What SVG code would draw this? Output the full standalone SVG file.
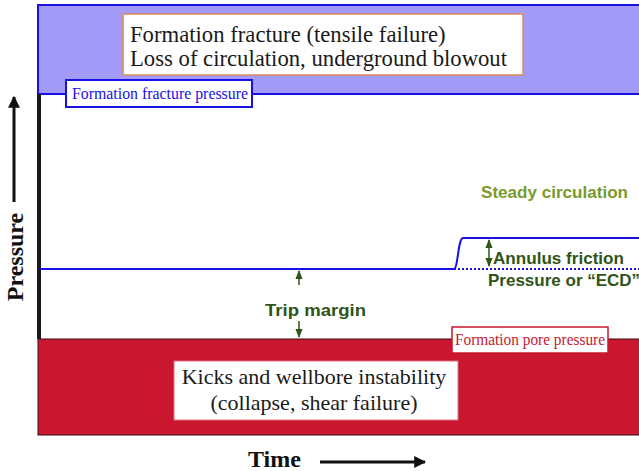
<svg xmlns="http://www.w3.org/2000/svg" width="639" height="471" viewBox="0 0 639 471">
  <style>
    .serif { font-family: "Liberation Serif", "Times New Roman", serif; }
    .sans { font-family: "Liberation Sans", Arial, sans-serif; font-weight: bold; }
    .big { font-size: 22.7px; fill: #1a1a1a; }
    .mid { font-size: 22px; fill: #1a1a1a; }
    .label { font-size: 15.8px; }
    .green { fill: #2f5416; font-size: 17px; }
  </style>
  <defs>
    <marker id="tipBlack" viewBox="0 0 10 10" refX="9" refY="5" markerWidth="4" markerHeight="4" orient="auto">
      <path d="M0,0 L10,5 L0,10 z" fill="#111"/>
    </marker>
    <marker id="tipGreen" viewBox="0 0 10 10" refX="9" refY="5" markerWidth="6" markerHeight="6" orient="auto-start-reverse">
      <path d="M0,1 L10,5 L0,9 z" fill="#2f5416"/>
    </marker>
  </defs>
  <rect width="639" height="471" fill="#ffffff"/>

  <!-- fracture zone (upper band) -->
  <g id="fracture-zone">
    <rect x="38" y="5" width="604" height="89" fill="#a29cf8" stroke="#1a10e6" stroke-width="2"/>
    <rect x="123" y="14" width="400" height="61" fill="#ffffff" stroke="#d98a5a" stroke-width="1.5"/>
    <text class="serif big" x="130" y="42">Formation fracture (tensile failure)</text>
    <text class="serif big" x="130" y="66">Loss of circulation, underground blowout</text>
  </g>

  <g id="fracture-label">
    <rect x="66" y="80" width="186" height="27" fill="#ffffff" stroke="#1a10e6" stroke-width="2"/>
    <text class="serif label" x="72" y="99" fill="#1a10e6" textLength="176" lengthAdjust="spacingAndGlyphs">Formation fracture pressure</text>
  </g>

  <!-- pore pressure zone (lower band) -->
  <g id="pore-zone">
    <rect x="38" y="339" width="604" height="96" fill="#c8172f" stroke="#3a0a10" stroke-width="1"/>
    <rect x="174" y="361" width="284" height="59" fill="#ffffff" stroke="#e07080" stroke-width="1"/>
    <text class="serif mid" x="314" y="384" text-anchor="middle">Kicks and wellbore instability</text>
    <text class="serif mid" x="314" y="410" text-anchor="middle">(collapse, shear failure)</text>
  </g>

  <g id="pore-label">
    <rect x="452" y="327" width="156" height="26" fill="#ffffff" stroke="#c8172f" stroke-width="1.5"/>
    <text class="serif label" x="455" y="345" fill="#c8172f" textLength="150" lengthAdjust="spacingAndGlyphs">Formation pore pressure</text>
  </g>

  <!-- pressure axis -->
  <g id="axis">
    <line x1="39" y1="94" x2="39" y2="339" stroke="#1a1a1a" stroke-width="4"/>
  </g>

  <!-- wellbore pressure curve -->
  <g id="wellbore-pressure">
    <path d="M40,269 L454,269 C458,269 458,238 463,238 L639,238" fill="none" stroke="#1a10e6" stroke-width="2"/>
    <line x1="454" y1="269" x2="639" y2="269" stroke="#1a10e6" stroke-width="2" stroke-dasharray="2,2"/>
  </g>

  <g id="steady-label">
    <text class="sans" x="481" y="198" font-size="17" fill="#7a9a2a" textLength="147" lengthAdjust="spacingAndGlyphs">Steady circulation</text>
  </g>

  <g id="ecd-label">
    <text class="sans green" x="493" y="264" textLength="131" lengthAdjust="spacingAndGlyphs">Annulus friction</text>
    <text class="sans green" x="488" y="286">Pressure or “ECD”</text>
  </g>

  <g id="trip-label">
    <text class="sans green" x="265" y="316" textLength="101" lengthAdjust="spacingAndGlyphs">Trip margin</text>
  </g>

  <g id="connectors">
    <line x1="489" y1="266" x2="489" y2="240" stroke="#2f5416" stroke-width="1.5" marker-start="url(#tipGreen)" marker-end="url(#tipGreen)"/>
    <line x1="299" y1="285" x2="299" y2="271" stroke="#2f5416" stroke-width="1.5" marker-end="url(#tipGreen)"/>
    <line x1="299" y1="321" x2="299" y2="337" stroke="#2f5416" stroke-width="1.5" marker-end="url(#tipGreen)"/>
    <line x1="14" y1="202" x2="14" y2="97" stroke="#111" stroke-width="3" marker-end="url(#tipBlack)"/>
    <line x1="320" y1="462" x2="425" y2="462" stroke="#111" stroke-width="3" marker-end="url(#tipBlack)"/>
  </g>

  <g id="axis-titles">
    <text class="serif" font-weight="bold" font-size="24" fill="#111" transform="translate(23,257) rotate(-90)" text-anchor="middle">Pressure</text>
    <text class="serif" font-weight="bold" font-size="24" fill="#111" x="248" y="467">Time</text>
  </g>
</svg>
